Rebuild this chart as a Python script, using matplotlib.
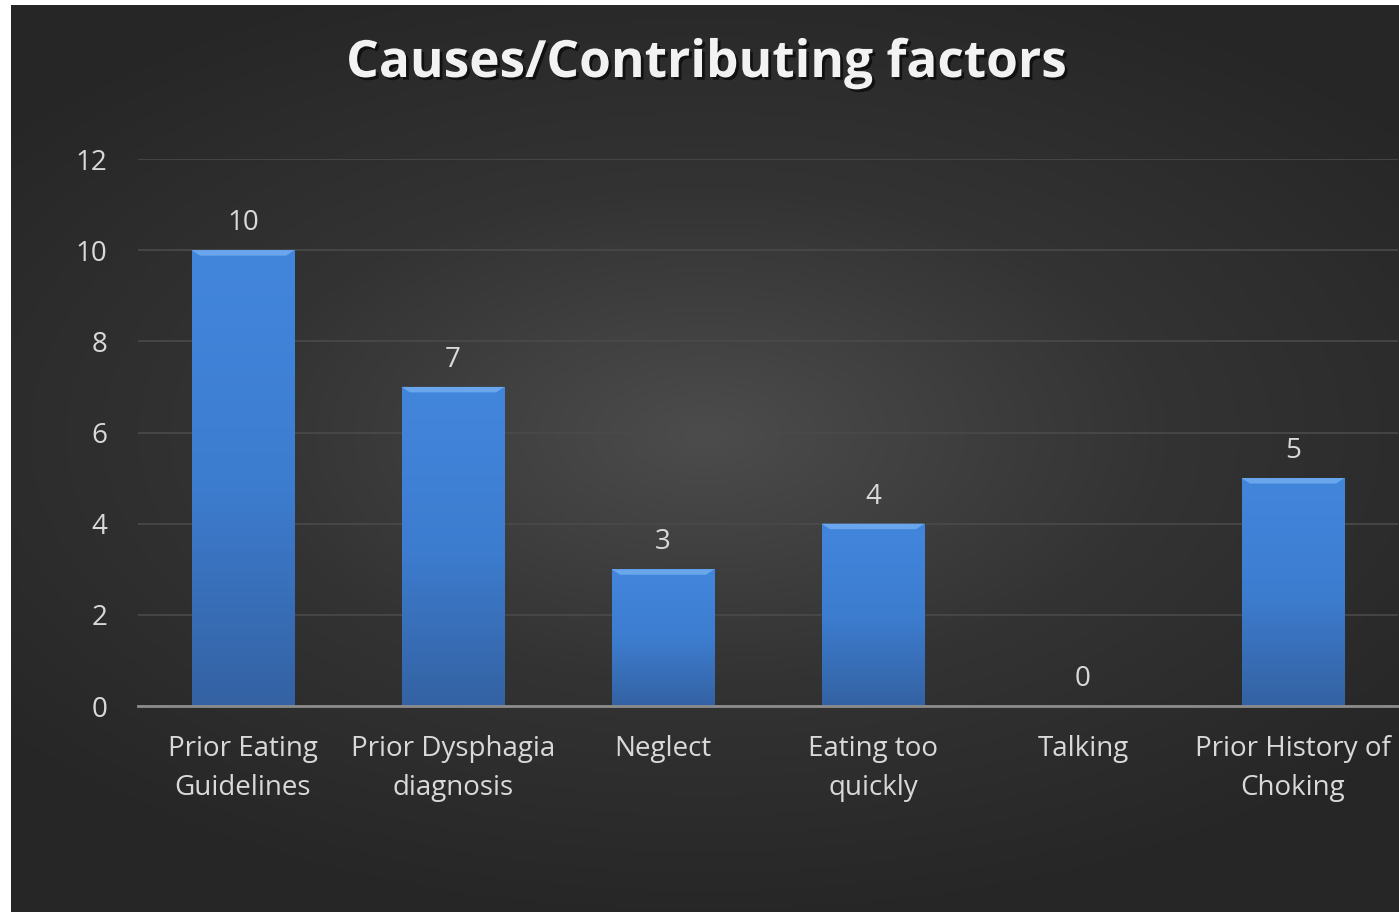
import numpy as np
import matplotlib.pyplot as plt
import matplotlib.patheffects as pe
from matplotlib.colors import LinearSegmentedColormap

categories = ["Prior Eating\nGuidelines", "Prior Dysphagia\ndiagnosis", "Neglect",
              "Eating too\nquickly", "Talking", "Prior History of\nChoking"]
counts = [10, 7, 3, 4, 0, 5]
yticks = [0, 2, 4, 6, 8, 10, 12]

plt.rcParams['font.family'] = ['Open Sans', 'DejaVu Sans']
txt = "#d9d9d9"

fig = plt.figure(figsize=(13.99, 9.13), dpi=100)
fig.patch.set_facecolor("white")

# dark radial gradient panel
bg = fig.add_axes([11 / 1399, 1 / 913, 1388 / 1399, 907 / 913])
yy, xx = np.mgrid[-1:1:300j, -1:1:400j]
r = np.sqrt((xx * 0.9) ** 2 + ((yy + 0.05) * 1.1) ** 2)
bg_cmap = LinearSegmentedColormap.from_list("bg", ["#4c4c4c", "#333333", "#262626"])
bg.imshow(r, cmap=bg_cmap, aspect="auto", extent=[0, 1, 0, 1], vmin=0, vmax=1.2)
bg.set_axis_off()

ax = fig.add_axes([138 / 1399, (913 - 706) / 913, 1260 / 1399, (706 - 159) / 913])
ax.set_facecolor("none")
x = np.arange(len(categories))
bars = ax.bar(x, counts, width=0.49, color="#3b78c8", edgecolor="#2a5590",
              linewidth=0.8, zorder=3)

bar_cmap = LinearSegmentedColormap.from_list("bar", ["#3462a3", "#3d7dd0", "#4286dc"])
grad = np.linspace(0, 1, 256).reshape(-1, 1)
for b in bars:
    h = b.get_height()
    if h <= 0:
        continue
    x0 = b.get_x()
    w = b.get_width()
    im = ax.imshow(grad, cmap=bar_cmap, aspect="auto", origin="lower",
                   extent=[x0, x0 + w, 0, h], zorder=3.5)
    im.set_clip_path(b)
    # bevel highlight at top
    ax.fill([x0, x0 + w, x0 + w - 0.04, x0 + 0.04],
            [h, h, h - 0.12, h - 0.12], color="#6aa6ec", zorder=4, lw=0)

for xi, v in zip(x, counts):
    ax.text(xi, v + 0.28, str(v), ha="center", va="bottom", color=txt, fontsize=20)

ax.set_xlim(-0.5, len(categories) - 0.5)
ax.set_ylim(0, 12)
ax.set_yticks(yticks)
ax.set_xticks(x)
ax.set_xticklabels(categories, color=txt, fontsize=20, linespacing=1.52)
ax.tick_params(axis="y", colors=txt, labelsize=20, length=0, pad=22)
ax.tick_params(axis="x", length=0, pad=21)
ax.grid(axis="y", color="#4a4a4a", linewidth=1.2, zorder=0)
for s in ["top", "right", "left"]:
    ax.spines[s].set_visible(False)
ax.spines["bottom"].set_color("#8c8c8c")
ax.spines["bottom"].set_linewidth(2)
ax.spines["bottom"].set_zorder(5)

fig.text(706 / 1399, 1 - 64 / 913, "Causes/Contributing factors", ha="center", va="center",
         color="#f2f2f2", fontsize=37, fontweight="bold",
         path_effects=[pe.withSimplePatchShadow(offset=(2, -2), shadow_rgbFace="black", alpha=0.6)])

fig.savefig("out.png", dpi=100, facecolor=fig.get_facecolor())
